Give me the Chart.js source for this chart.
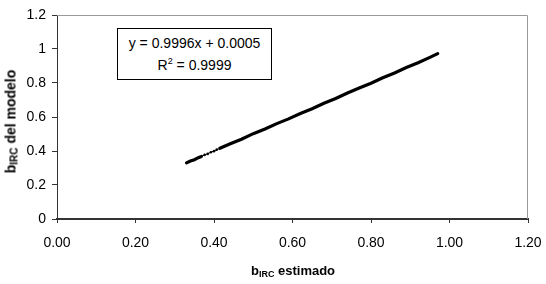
<!DOCTYPE html>
<html>
<head>
<meta charset="utf-8">
<script src="https://cdn.jsdelivr.net/npm/chart.js@4"></script>
<style>
    html, body { margin: 0; padding: 0; background: #ffffff; }
    #wrap { position: relative; width: 546px; height: 284px; font-family: "Liberation Sans", Arial, sans-serif; color: #000; }
    #chart { position: absolute; left: 0; top: 0; }
    .xtitle { position: absolute; left: 193px; width: 200px; top: 263px; text-align: center; font-weight: bold; font-size: 13px; }
    .ytitle { position: absolute; left: -89px; top: 113px; width: 200px; text-align: center; font-weight: bold; font-size: 14px; transform: rotate(-90deg); }
    .sub { font-size: 10px; vertical-align: -2px; }
    .xtitle .sub { font-size: 9px; }
    .eqbox { position: absolute; left: 117px; top: 28px; width: 155px; height: 52px; border: 1px solid #000; background: #fff; font-size: 14px; text-align: center; line-height: 22px; padding-top: 3px; box-sizing: border-box; }
    .eqbox sup { font-size: 9px; vertical-align: 6px; line-height: 0; }
</style>
</head>
<body>
<div id="wrap">
    <canvas id="chart" width="546" height="284"></canvas>
    <div class="eqbox">y = 0.9996x + 0.0005<br>R<sup>2</sup> = 0.9999</div>
    <div class="xtitle">b<span class="sub">IRC</span> estimado</div>
    <div class="ytitle">b<span class="sub">IRC</span> del modelo</div>
</div>
<script>
// Scattered points in the thin stretch near the low end
const sparseX = [0.376, 0.384, 0.392, 0.400, 0.407];
const sparseY = [0.377, 0.383, 0.393, 0.399, 0.408];

// Dense band of points (b_IRC estimado vs b_IRC del modelo); null marks the thin stretch
const denseX = [0.330, 0.340, 0.350, 0.360, 0.368, 0.390, 0.415, 0.440, 0.470, 0.500, 0.530, 0.560, 0.590, 0.620, 0.650, 0.680, 0.710, 0.740, 0.770, 0.800, 0.830, 0.860, 0.890, 0.920, 0.950, 0.970];
const denseY = [0.330, 0.341, 0.349, 0.361, 0.368, null, 0.416, 0.441, 0.469, 0.502, 0.529, 0.561, 0.589, 0.621, 0.649, 0.681, 0.709, 0.741, 0.771, 0.799, 0.831, 0.859, 0.891, 0.919, 0.951, 0.973];

// Linear trend line (y = 0.9996x + 0.0005)
const trendX = [0.330, 0.970];
const trendY = [0.3304, 0.9701];

// Tick labels
const xTicks = [0, 0.2, 0.4, 0.6, 0.8, 1.0, 1.2];
const yTicks = [0, 0.2, 0.4, 0.6, 0.8, 1, 1.2];

const toPoints = (xs, ys) => xs.map((x, i) => ({ x: x, y: ys[i] }));

// Light frame on the top and right side of the plot area
const frameBorder = {
    id: 'frameBorder',
    beforeDatasetsDraw(chart) {
        const a = chart.chartArea;
        const ctx = chart.ctx;
        ctx.save();
        ctx.strokeStyle = '#999999';
        ctx.lineWidth = 1;
        ctx.beginPath();
        ctx.moveTo(a.left, a.top + 0.5);
        ctx.lineTo(a.right - 0.5, a.top + 0.5);
        ctx.lineTo(a.right - 0.5, a.bottom);
        ctx.stroke();
        ctx.restore();
    }
};

new Chart(document.getElementById('chart'), {
    type: 'scatter',
    data: {
        datasets: [
            {
                label: 'Tendencia',
                data: toPoints(trendX, trendY),
                showLine: true,
                borderColor: '#000000',
                borderWidth: 1,
                pointRadius: 0
            },
            {
                label: 'Puntos',
                data: toPoints(sparseX, sparseY),
                backgroundColor: '#000000',
                borderColor: '#000000',
                pointRadius: 1.3,
                borderWidth: 0
            },
            {
                label: 'Datos',
                data: toPoints(denseX, denseY),
                showLine: true,
                spanGaps: false,
                borderColor: '#000000',
                borderWidth: 3.2,
                borderCapStyle: 'round',
                pointRadius: 0
            }
        ]
    },
    plugins: [frameBorder],
    options: {
        responsive: false,
        animation: false,
        layout: { padding: { top: 15, right: 0, left: 0, bottom: 0 } },
        scales: {
            x: {
                type: 'linear',
                min: 0,
                max: 1.2,
                afterBuildTicks: (scale) => { scale.ticks = xTicks.map(v => ({ value: v })); },
                afterFit: (scale) => {
                    scale.height = 65;
                    scale.paddingRight = 18;
                },
                ticks: {
                    color: '#000000',
                    font: { family: 'Liberation Sans', size: 14 },
                    padding: 12,
                    maxRotation: 0,
                    callback: (v) => Number(v).toFixed(2)
                },
                grid: { drawOnChartArea: false, drawTicks: true, tickLength: 4, color: '#333333' },
                border: { color: '#333333', width: 2 }
            },
            y: {
                type: 'linear',
                min: 0,
                max: 1.2,
                afterBuildTicks: (scale) => { scale.ticks = yTicks.map(v => ({ value: v })); },
                afterFit: (scale) => { scale.width = 57; },
                ticks: {
                    color: '#000000',
                    font: { family: 'Liberation Sans', size: 14 },
                    padding: 6,
                    callback: (v) => String(Math.round(v * 10) / 10)
                },
                grid: { drawOnChartArea: false, drawTicks: true, tickLength: 5, color: '#333333' },
                border: { color: '#333333', width: 1 }
            }
        },
        plugins: {
            legend: { display: false },
            title: { display: false },
            tooltip: { enabled: false }
        }
    }
});
</script>
</body>
</html>
